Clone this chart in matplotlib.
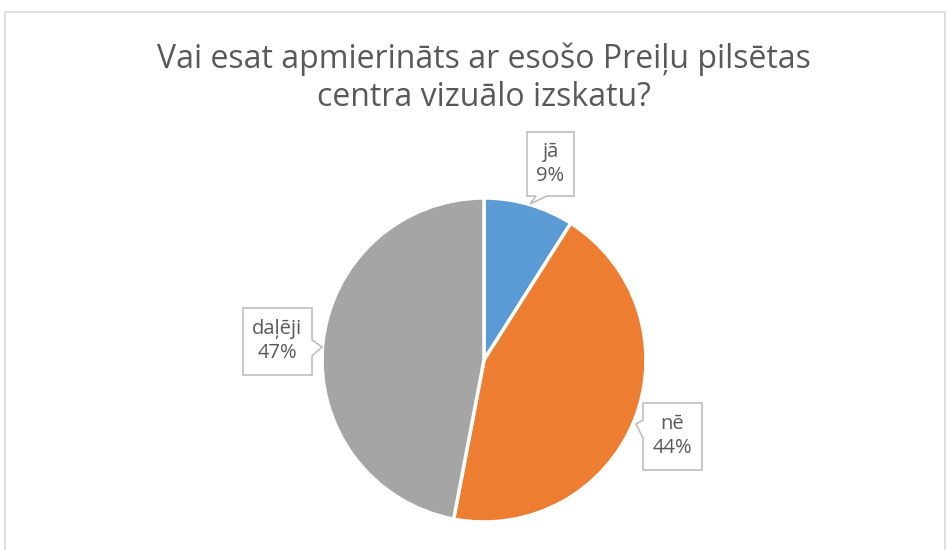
import matplotlib
matplotlib.use("Agg")
import matplotlib.pyplot as plt
from matplotlib.patches import Polygon, Rectangle

categories = ["jā", "nē", "daļēji"]
values = [9, 44, 47]
colors = ["#5B9BD5", "#ED7D31", "#A5A5A5"]
title = "Vai esat apmierināts ar esošo Preiļu pilsētas\ncentra vizuālo izskatu?"

W, H = 946, 550
fig = plt.figure(figsize=(W / 100, H / 100), dpi=100)
plt.rcParams['font.family'] = ['Open Sans', 'DejaVu Sans']

def px(x, y):
    return (x / W, 1 - y / H)

# chart border
fig.patches.append(Rectangle(px(5, 560), (945 - 5) / W, (560 - 12) / H,
                             transform=fig.transFigure, fill=False,
                             edgecolor="#D9D9D9", linewidth=1.2))

cx, cy, r = 484, 360, 162
ax = fig.add_axes([(cx - r) / W, (H - cy - r) / H, 2 * r / W, 2 * r / H])
ax.pie(values, colors=colors, startangle=90, counterclock=False,
       wedgeprops=dict(edgecolor="white", linewidth=2.5))
ax.set_xlim(-1.0, 1.0)
ax.set_ylim(-1.0, 1.0)
ax.set_aspect("equal")
ax.axis("off")

fig.text(cx / W, 1 - 78 / H, title, ha="center", va="center",
         fontsize=23, color="#595959", linespacing=1.2)

def callout(pts, text, center):
    poly = Polygon([px(*p) for p in pts], closed=True, transform=fig.transFigure,
                   facecolor="white", edgecolor="#BFBFBF", linewidth=1.2)
    fig.patches.append(poly)
    fig.text(*px(*center), text, ha="center", va="center", fontsize=14.5,
             color="#595959", linespacing=1.3)

labels = [f"{c}\n{v}%" for c, v in zip(categories, values)]

# jā box: (527,132)-(574,196), pointer at bottom
callout([(527, 132), (574, 132), (574, 196), (547, 196), (530, 204),
         (536, 196), (527, 196)], labels[0], (550, 164))
# nē box: (643,403)-(702,470), pointer on left
callout([(643, 403), (702, 403), (702, 470), (643, 470), (643, 438),
         (636, 424), (643, 420)], labels[1], (672, 436))
# daļēji box: (243,308)-(312,375), pointer on right
callout([(243, 308), (312, 308), (312, 340), (322, 347), (312, 356),
         (312, 375), (243, 375)], labels[2], (277, 341))

fig.savefig("out.png", dpi=100)
